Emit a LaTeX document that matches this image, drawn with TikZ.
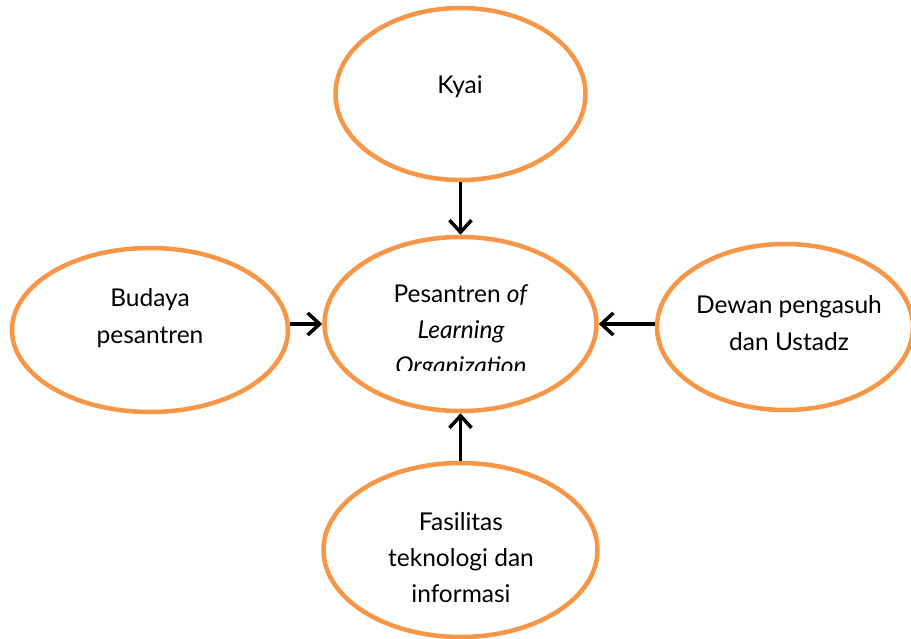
\documentclass[tikz,border=0pt]{standalone}
\usepackage{fontspec}
\setmainfont{Lato}
\usetikzlibrary{shapes.geometric,arrows.meta}
\definecolor{laranja}{RGB}{247,150,70}

\begin{document}
\begin{tikzpicture}[x=1pt,y=-1pt,
    elipse/.style={ellipse, draw=laranja, line width=4.5pt, fill=white, inner sep=0pt},
    seta/.style={-{Straight Barb[length=12pt,width=22pt,line width=3.5pt]}, line width=3.5pt},
    texto/.style={align=center, anchor=base, inner sep=0pt, font=\fontsize{24.5}{36}\selectfont}]
    \useasboundingbox (0,0) rectangle (911,639);

    % Elipses
    \node[elipse, minimum width=250, minimum height=172] (kyai) at (460.5,94) {};
    \node[elipse, minimum width=272, minimum height=174] (pesantren) at (460.5,324) {};
    \node[elipse, minimum width=276, minimum height=164] (budaya) at (150,330) {};
    \node[elipse, minimum width=256, minimum height=166] (dewan) at (785,327) {};
    \node[elipse, minimum width=274, minimum height=174] (fasilitas) at (460.5,550) {};

    % Textos (base = ultima linha)
    \node[texto] (tkyai) at (460,94) {Kyai};
    \node[texto] (tbudaya) at (150,343) {Budaya\\pesantren};
    \node[texto] (tdewan) at (789,350) {Dewan pengasuh\\dan Ustadz};
    \node[texto] (tfasilitas) at (461,602) {Fasilitas\\teknologi dan\\informasi};
    \begin{scope}
        \clip (330,270) rectangle (595,370);
        \node[texto] (tpesantren) at (461,374) {Pesantren \textit{of}\\\textit{Learning}\\\textit{Organization}};
    \end{scope}

    % Setas
    \draw[seta] (kyai) -- (pesantren);
    \draw[seta] (budaya.east |- pesantren) -- (pesantren.west);
    \draw[seta] (dewan.west |- pesantren) -- (pesantren.east);
    \draw[seta] (fasilitas) -- (pesantren);

\end{tikzpicture}
\end{document}
